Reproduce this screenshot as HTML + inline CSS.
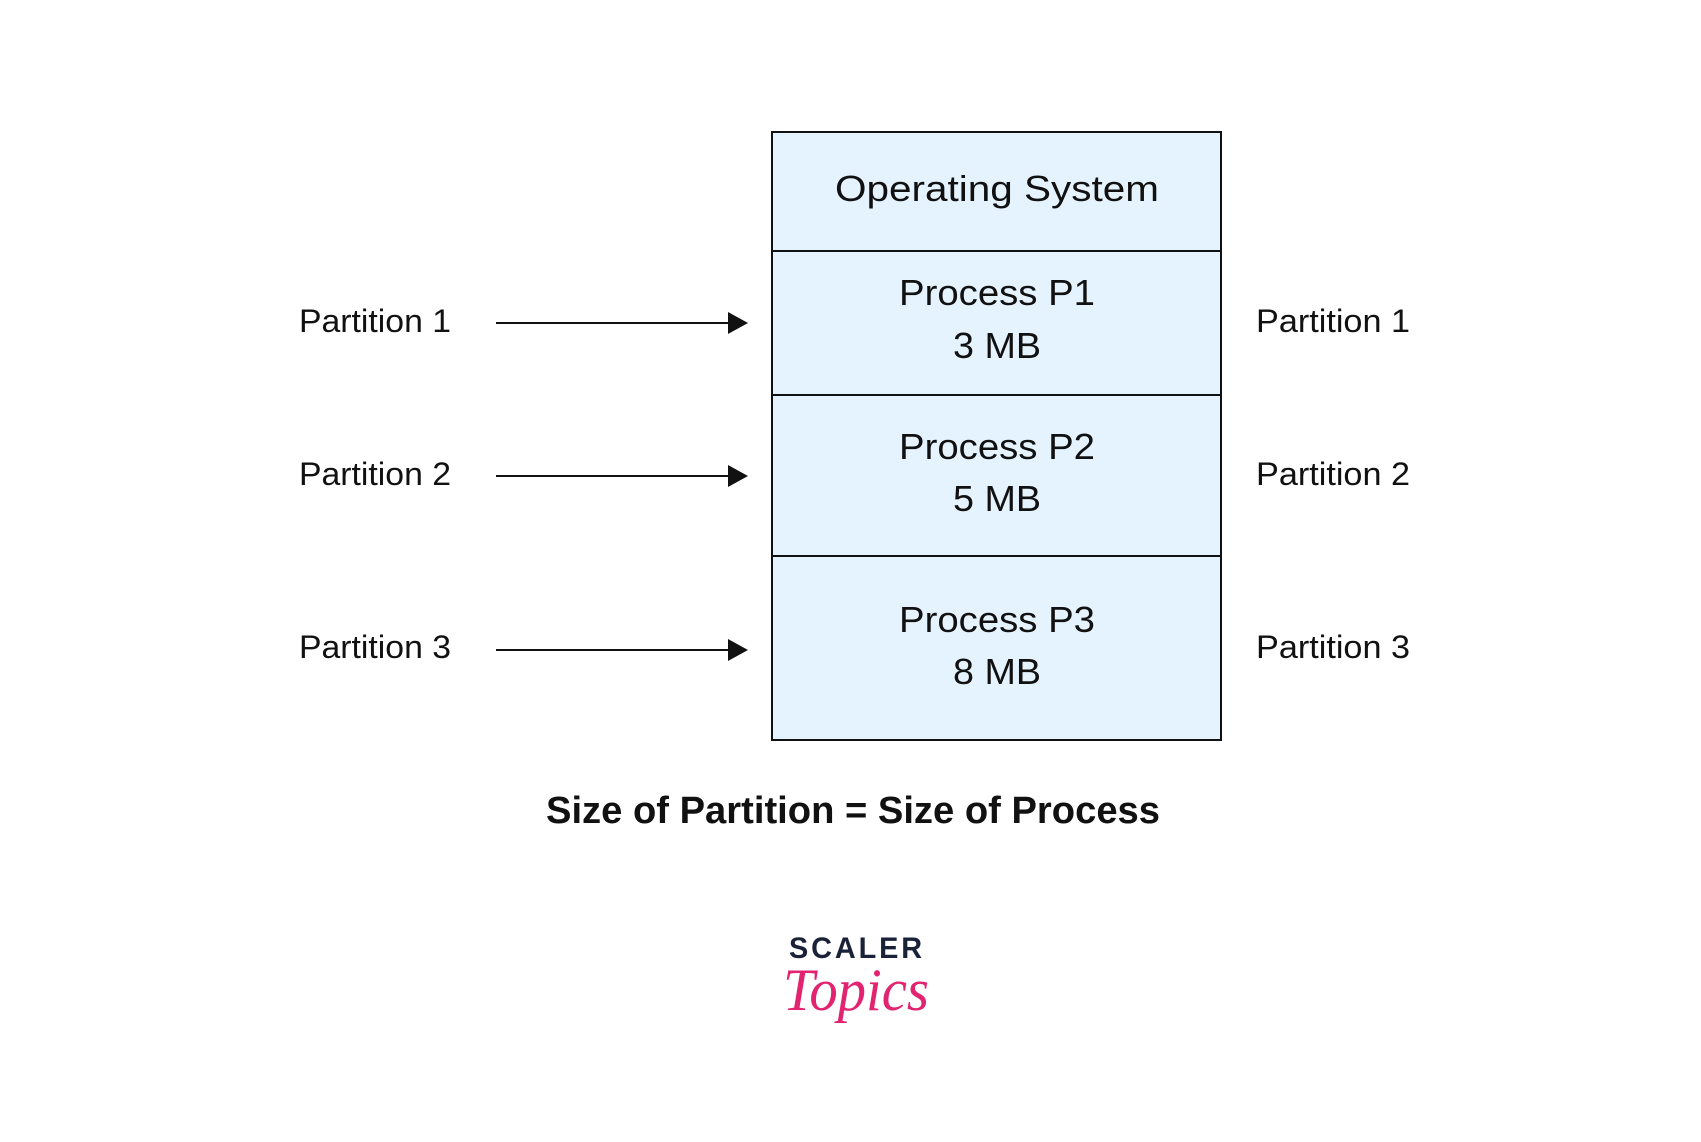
<!DOCTYPE html>
<html><head><meta charset="utf-8"><style>html,body{margin:0;padding:0;background:#fff}svg{display:block}</style></head>
<body>
<svg width="1701" height="1142" viewBox="0 0 1701 1142" xmlns="http://www.w3.org/2000/svg" font-family="Liberation Sans, sans-serif">
<rect x="0" y="0" width="1701" height="1142" fill="#fff"/>
<g transform="translate(-4,-2)">
<rect x="776" y="134" width="449" height="608" fill="#e5f3fe" stroke="#111" stroke-width="2"/>
<line x1="776" y1="253" x2="1225" y2="253" stroke="#111" stroke-width="2"/>
<line x1="776" y1="397" x2="1225" y2="397" stroke="#111" stroke-width="2"/>
<line x1="776" y1="558" x2="1225" y2="558" stroke="#111" stroke-width="2"/>
<g font-size="36" fill="#111" text-anchor="middle">
<text x="1001" y="203" textLength="324" lengthAdjust="spacingAndGlyphs">Operating System</text>
<text x="1001" y="307" textLength="196" lengthAdjust="spacingAndGlyphs">Process P1</text>
<text x="1001" y="360" textLength="88" lengthAdjust="spacingAndGlyphs">3 MB</text>
<text x="1001" y="461" textLength="196" lengthAdjust="spacingAndGlyphs">Process P2</text>
<text x="1001" y="513" textLength="88" lengthAdjust="spacingAndGlyphs">5 MB</text>
<text x="1001" y="634" textLength="196" lengthAdjust="spacingAndGlyphs">Process P3</text>
<text x="1001" y="686" textLength="88" lengthAdjust="spacingAndGlyphs">8 MB</text>
</g>
<g font-size="32" fill="#111">
<text x="303" y="334" textLength="152" lengthAdjust="spacingAndGlyphs">Partition 1</text>
<text x="303" y="487" textLength="152" lengthAdjust="spacingAndGlyphs">Partition 2</text>
<text x="303" y="660" textLength="152" lengthAdjust="spacingAndGlyphs">Partition 3</text>
<text x="1260" y="334" textLength="154" lengthAdjust="spacingAndGlyphs">Partition 1</text>
<text x="1260" y="487" textLength="154" lengthAdjust="spacingAndGlyphs">Partition 2</text>
<text x="1260" y="660" textLength="154" lengthAdjust="spacingAndGlyphs">Partition 3</text>
</g>
<g stroke="#111" stroke-width="2">
<line x1="500" y1="325" x2="734" y2="325"/>
<line x1="500" y1="478" x2="734" y2="478"/>
<line x1="500" y1="652" x2="734" y2="652"/>
</g>
<g fill="#111">
<polygon points="732,314 752,325 732,336"/>
<polygon points="732,467 752,478 732,489"/>
<polygon points="732,641 752,652 732,663"/>
</g>
<text x="857" y="825" font-size="38" font-weight="bold" fill="#111" text-anchor="middle" textLength="614" lengthAdjust="spacingAndGlyphs">Size of Partition = Size of Process</text>
<text x="861" y="960" font-size="30" font-weight="bold" fill="#1a2238" text-anchor="middle" textLength="136" lengthAdjust="spacingAndGlyphs" letter-spacing="3">SCALER</text>
<text x="860" y="1012" font-size="60" font-style="italic" fill="#e2236f" text-anchor="middle" font-family="Liberation Serif, serif" textLength="146" lengthAdjust="spacingAndGlyphs">Topics</text>
</g>
</svg>
</body></html>
